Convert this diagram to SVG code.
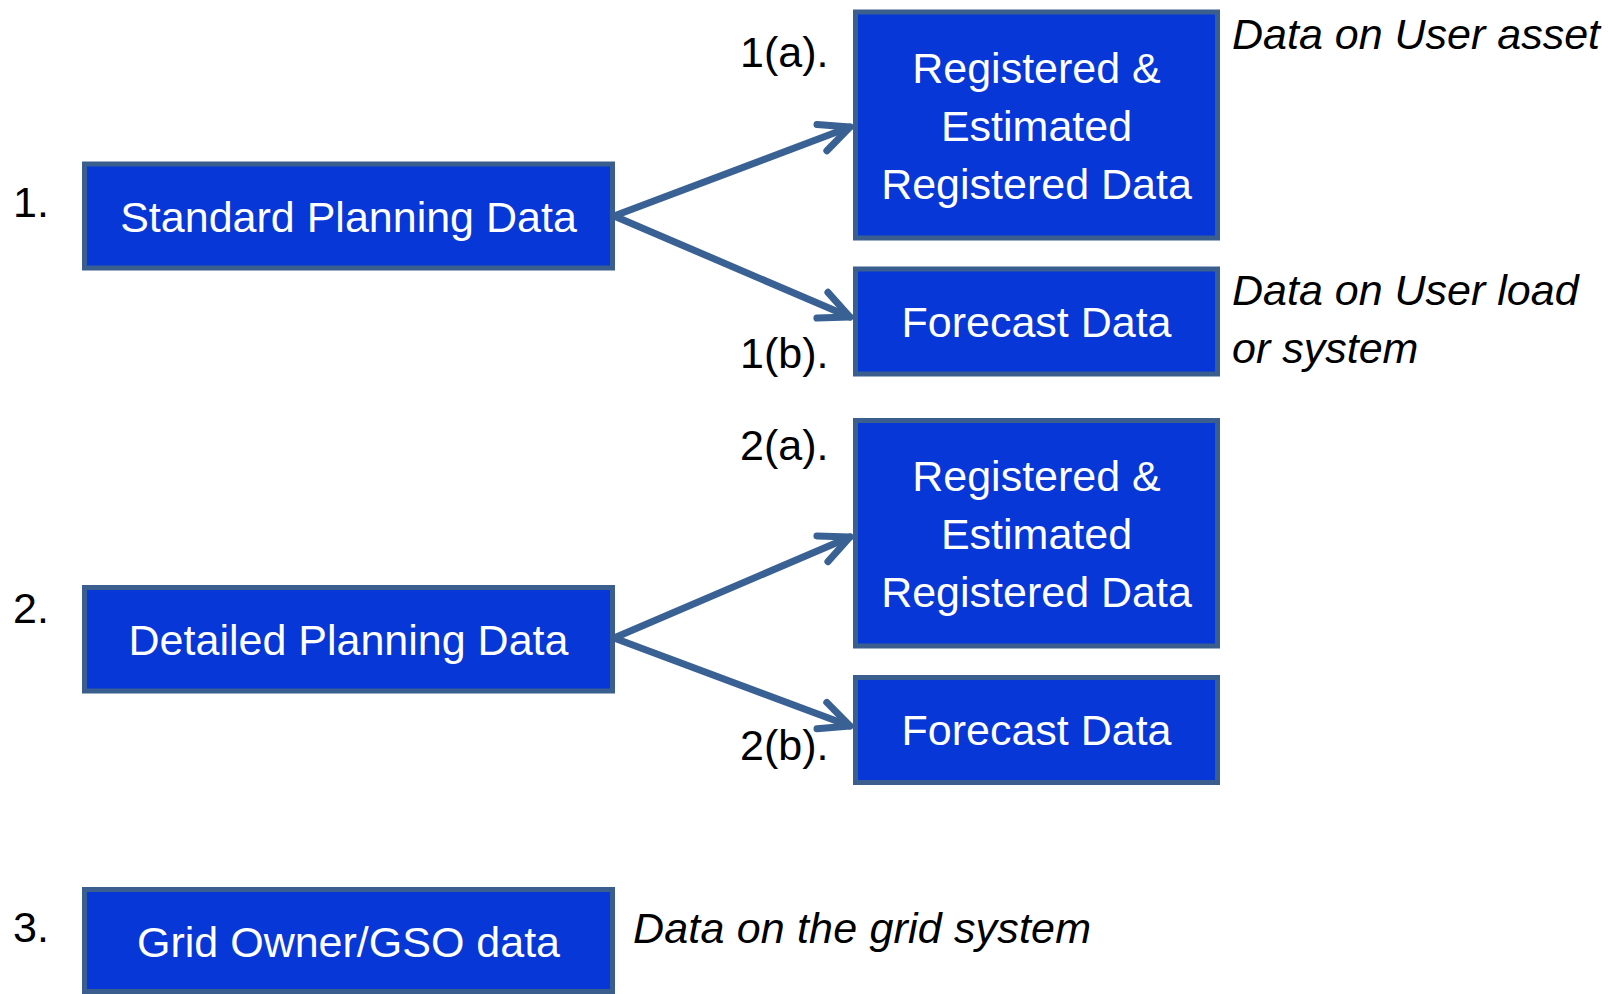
<svg xmlns="http://www.w3.org/2000/svg" width="1608" height="994" viewBox="0 0 1608 994">
<style>
.box{fill:#0737D7;stroke:#3A5F8F;stroke-width:5}
.bt{font-family:"Liberation Sans",Arial,sans-serif;font-size:43px;fill:#ffffff;text-anchor:middle}
.lbl{font-family:"Liberation Sans",Arial,sans-serif;font-size:43px;fill:#000000}
.note{font-family:"Liberation Sans",Arial,sans-serif;font-size:43px;font-style:italic;fill:#000000}
.conn{stroke:#3A6194;stroke-width:7;fill:none;stroke-linecap:round;stroke-linejoin:round}
</style>
<defs>
<marker id="arr" markerUnits="userSpaceOnUse" markerWidth="40" markerHeight="40" viewBox="-36 -20 40 40" refX="0" refY="0" orient="auto" overflow="visible">
<path d="M -30 -14 L 0 0 L -30 14" fill="none" stroke="#3A6194" stroke-width="7" stroke-linecap="round" stroke-linejoin="round"/>
</marker>
</defs>
<rect width="1608" height="994" fill="#ffffff"/>
<g id="connectors">
<line class="conn" x1="614" y1="216" x2="850" y2="127" marker-end="url(#arr)"/>
<line class="conn" x1="614" y1="216" x2="850" y2="317" marker-end="url(#arr)"/>
<line class="conn" x1="614" y1="638" x2="850" y2="537" marker-end="url(#arr)"/>
<line class="conn" x1="614" y1="638" x2="850" y2="726" marker-end="url(#arr)"/>
</g>
<g id="labels">
<text class="lbl" x="13" y="217">1.</text>
<text class="lbl" x="13" y="623">2.</text>
<text class="lbl" x="13" y="942">3.</text>
<text class="lbl" x="740" y="67">1(a).</text>
<text class="lbl" x="740" y="368">1(b).</text>
<text class="lbl" x="740" y="460">2(a).</text>
<text class="lbl" x="740" y="760">2(b).</text>
</g>
<g id="node-standard">
<rect class="box" x="84.5" y="164" width="528" height="104"/>
<text class="bt" x="348.5" y="232">Standard Planning Data</text>
</g>
<g id="node-1a">
<rect class="box" x="855.5" y="12" width="362" height="226"/>
<text class="bt" x="1036.5" y="83">Registered &amp;</text>
<text class="bt" x="1036.5" y="141">Estimated</text>
<text class="bt" x="1036.5" y="199">Registered Data</text>
</g>
<g id="node-1b">
<rect class="box" x="855.5" y="269" width="362" height="105"/>
<text class="bt" x="1036.5" y="337">Forecast Data</text>
</g>
<g id="node-detailed">
<rect class="box" x="84.5" y="587.5" width="528" height="103.5"/>
<text class="bt" x="348.5" y="655">Detailed Planning Data</text>
</g>
<g id="node-2a">
<rect class="box" x="855.5" y="420.5" width="362" height="225.5"/>
<text class="bt" x="1036.5" y="491">Registered &amp;</text>
<text class="bt" x="1036.5" y="549">Estimated</text>
<text class="bt" x="1036.5" y="607">Registered Data</text>
</g>
<g id="node-2b">
<rect class="box" x="855.5" y="677.5" width="362" height="105"/>
<text class="bt" x="1036.5" y="745">Forecast Data</text>
</g>
<g id="node-grid">
<rect class="box" x="84.5" y="889.5" width="528" height="102"/>
<text class="bt" x="348.5" y="957">Grid Owner/GSO data</text>
</g>
<g id="notes">
<text class="note" x="1232" y="49">Data on User asset</text>
<text class="note" x="1232" y="305">Data on User load</text>
<text class="note" x="1232" y="363">or system</text>
<text class="note" x="633" y="943" textLength="458" lengthAdjust="spacing">Data on the grid system</text>
</g>
</svg>
